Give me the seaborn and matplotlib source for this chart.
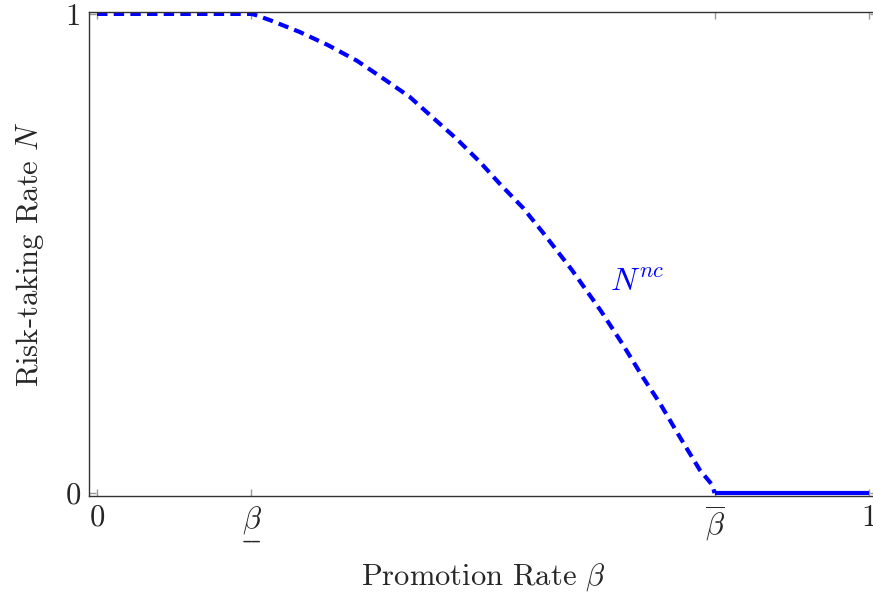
import matplotlib
matplotlib.use("Agg")
import matplotlib.pyplot as plt
import seaborn as sns
import pandas as pd
from matplotlib.mathtext import MathTextParser

# ---- data ----
beta_nc = [0.0, 0.2, 0.205, 0.224, 0.263, 0.299, 0.337, 0.370, 0.405, 0.434,
           0.466, 0.496, 0.522, 0.552, 0.578, 0.615, 0.652, 0.680, 0.707,
           0.729, 0.755, 0.781, 0.797, 0.8]
N_nc = [1.0, 1.0, 0.998, 0.987, 0.962, 0.935, 0.902, 0.866, 0.827, 0.785,
        0.739, 0.691, 0.645, 0.595, 0.543, 0.466, 0.382, 0.313, 0.242,
        0.188, 0.117, 0.048, 0.017, 0.0]
beta_zero = [0.8, 1.0]
N_zero = [0.0, 0.0]
x_ticks = [0.0, 0.2, 0.8, 1.0]
y_ticks = [0.0, 1.0]

sns.set_theme(style="white")
plt.rcParams["font.family"] = ["cmr10", "DejaVu Serif"]
plt.rcParams["mathtext.fontset"] = "cm"
plt.rcParams["axes.formatter.use_mathtext"] = True

# underline label (fallback if \underline unsupported)
under_lbl = r"$\underline{\beta}$"
try:
    MathTextParser("path").parse(under_lbl)
except Exception:
    under_lbl = r"$\underset{\_\!\_}{\beta}$"
x_labels = ["0", under_lbl, r"$\overline{\beta}$", "1"]
y_labels = ["0", "1"]

fig = plt.figure(figsize=(8.73, 5.94), dpi=100)
ax = fig.add_axes([89 / 873, 98 / 594, (877 - 89) / 873, (496 - 12) / 594])

df1 = pd.DataFrame({"beta": beta_nc, "N": N_nc})
df2 = pd.DataFrame({"beta": beta_zero, "N": N_zero})
sns.lineplot(data=df1, x="beta", y="N", ax=ax, color="#0000ff", lw=3.0,
             linestyle=(0, (2.5, 1.5)), sort=False, solid_capstyle="butt")
sns.lineplot(data=df2, x="beta", y="N", ax=ax, color="#0000ff", lw=3.0,
             sort=False, solid_capstyle="butt")

ax.set_xlim(-0.0104, 1.0104)
ax.set_ylim(-0.006, 1.004)
ax.set_xticks(x_ticks)
ax.set_xticklabels(x_labels)
ax.set_yticks(y_ticks)
ax.set_yticklabels(y_labels)
ax.tick_params(axis="both", direction="in", length=5, width=1.0,
               color="#999999", labelsize=22, top=True, right=True,
               bottom=True, left=True, pad=6)

for s in ax.spines.values():
    s.set_color("#333333")
    s.set_linewidth(1.0)

ax.set_xlabel(r"Promotion Rate $\beta$", fontsize=22, labelpad=11)
ax.set_ylabel(r"Risk-taking Rate $N$", fontsize=22, labelpad=14)

ax.text(0.70, 0.438, r"$N^{nc}$", color="#0000ff", fontsize=23,
        ha="center", va="center")

fig.savefig("out.png", dpi=100)
